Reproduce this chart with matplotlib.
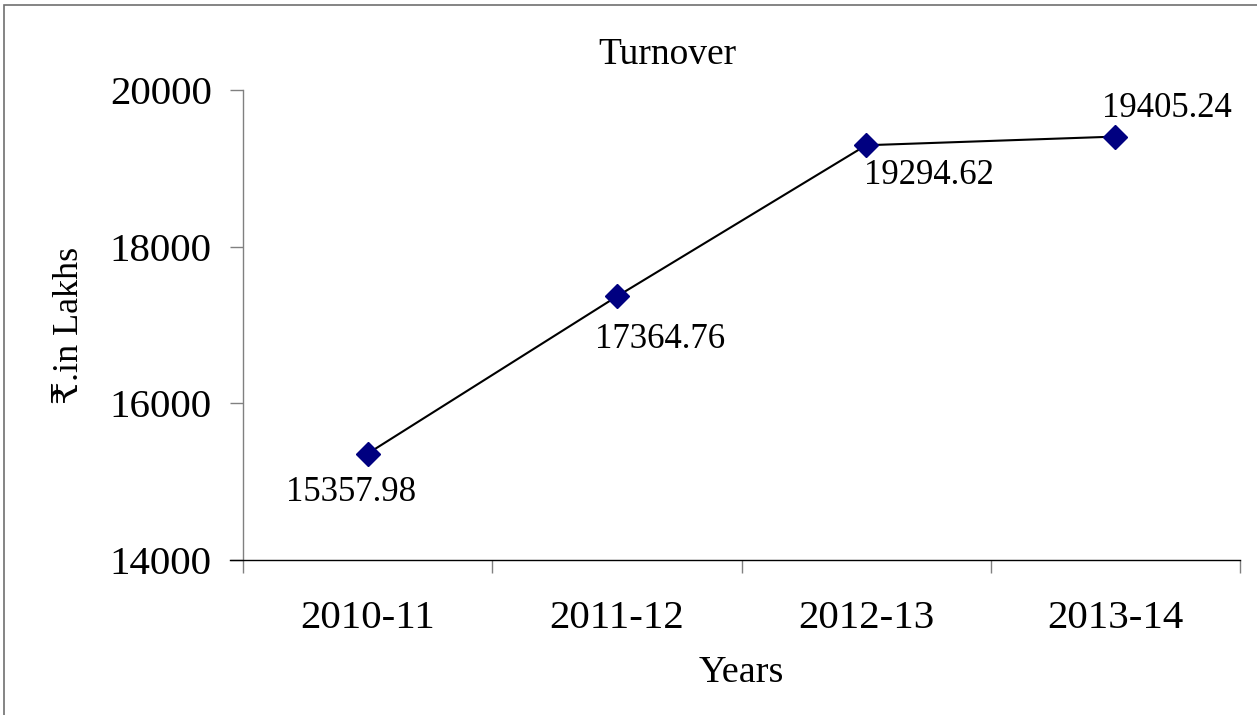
import matplotlib
matplotlib.use("Agg")
import matplotlib.pyplot as plt
from matplotlib.patches import Rectangle

plt.rcParams['font.family'] = ['Liberation Serif', 'DejaVu Serif', 'DejaVu Sans']

years = ["2010-11", "2011-12", "2012-13", "2013-14"]
turnover = [15357.98, 17364.76, 19294.62, 19405.24]
label_text = ["15357.98", "17364.76", "19294.62", "19405.24"]
# label offsets in points from each marker (as placed in the original)
label_dx = [-12, 31, 45, 37]
label_dy = [-28, -31, -22, 20]

yticks = [14000, 16000, 18000, 20000]

fig = plt.figure(figsize=(12.57, 7.15), dpi=100)
ax = fig.add_axes([243/1257, 1 - 560/715, (1240-243)/1257, (560-90)/715])

xs = list(range(len(years)))
ax.plot(xs, turnover, color='black', lw=1.5, marker='D', ms=12,
        mfc='#000080', mec='#000080', zorder=3)

for i, (x, y) in enumerate(zip(xs, turnover)):
    ax.annotate(label_text[i], (x, y), xytext=(label_dx[i], label_dy[i]),
                textcoords='offset points', ha='center', va='center', fontsize=25)

ax.set_xlim(-0.5, 3.5)
ax.set_ylim(14000, 20000)
ax.set_yticks(yticks)
ax.set_yticklabels([str(v) for v in yticks], fontsize=29.5)

# category boundaries as ticks, names in between
ax.set_xticks([-0.5, 0.5, 1.5, 2.5, 3.5])
ax.set_xticklabels([])
ax.set_xticks(xs, minor=True)
ax.set_xticklabels(years, minor=True, fontsize=29.5)
ax.tick_params(axis='x', which='minor', length=0, pad=29)
ax.tick_params(axis='x', which='major', length=9, width=1, color='#808080', direction='out')
ax.tick_params(axis='y', length=9.5, width=1, color='#808080', direction='out', pad=13)

for s in ['top', 'right']:
    ax.spines[s].set_visible(False)
ax.spines['left'].set_color('#808080')
ax.spines['left'].set_linewidth(1)
ax.spines['bottom'].set_color('black')
ax.spines['bottom'].set_linewidth(1)
ax.spines['bottom'].set_bounds(-0.5 - 13/249, 3.5)

ax.set_xlabel("Years", fontsize=27.5, labelpad=13)
ax.set_ylabel("₹.in Lakhs", fontsize=26, labelpad=17)

fig.text(667/1257, 1 - 55/715, "Turnover", ha='center', va='center', fontsize=27)

fig.patches.append(Rectangle((4/1257, -0.01), 1.02, 1 - 5/715 + 0.01,
                             transform=fig.transFigure, fill=False,
                             edgecolor='#707070', lw=1.2))

fig.savefig("out.png", dpi=100)
